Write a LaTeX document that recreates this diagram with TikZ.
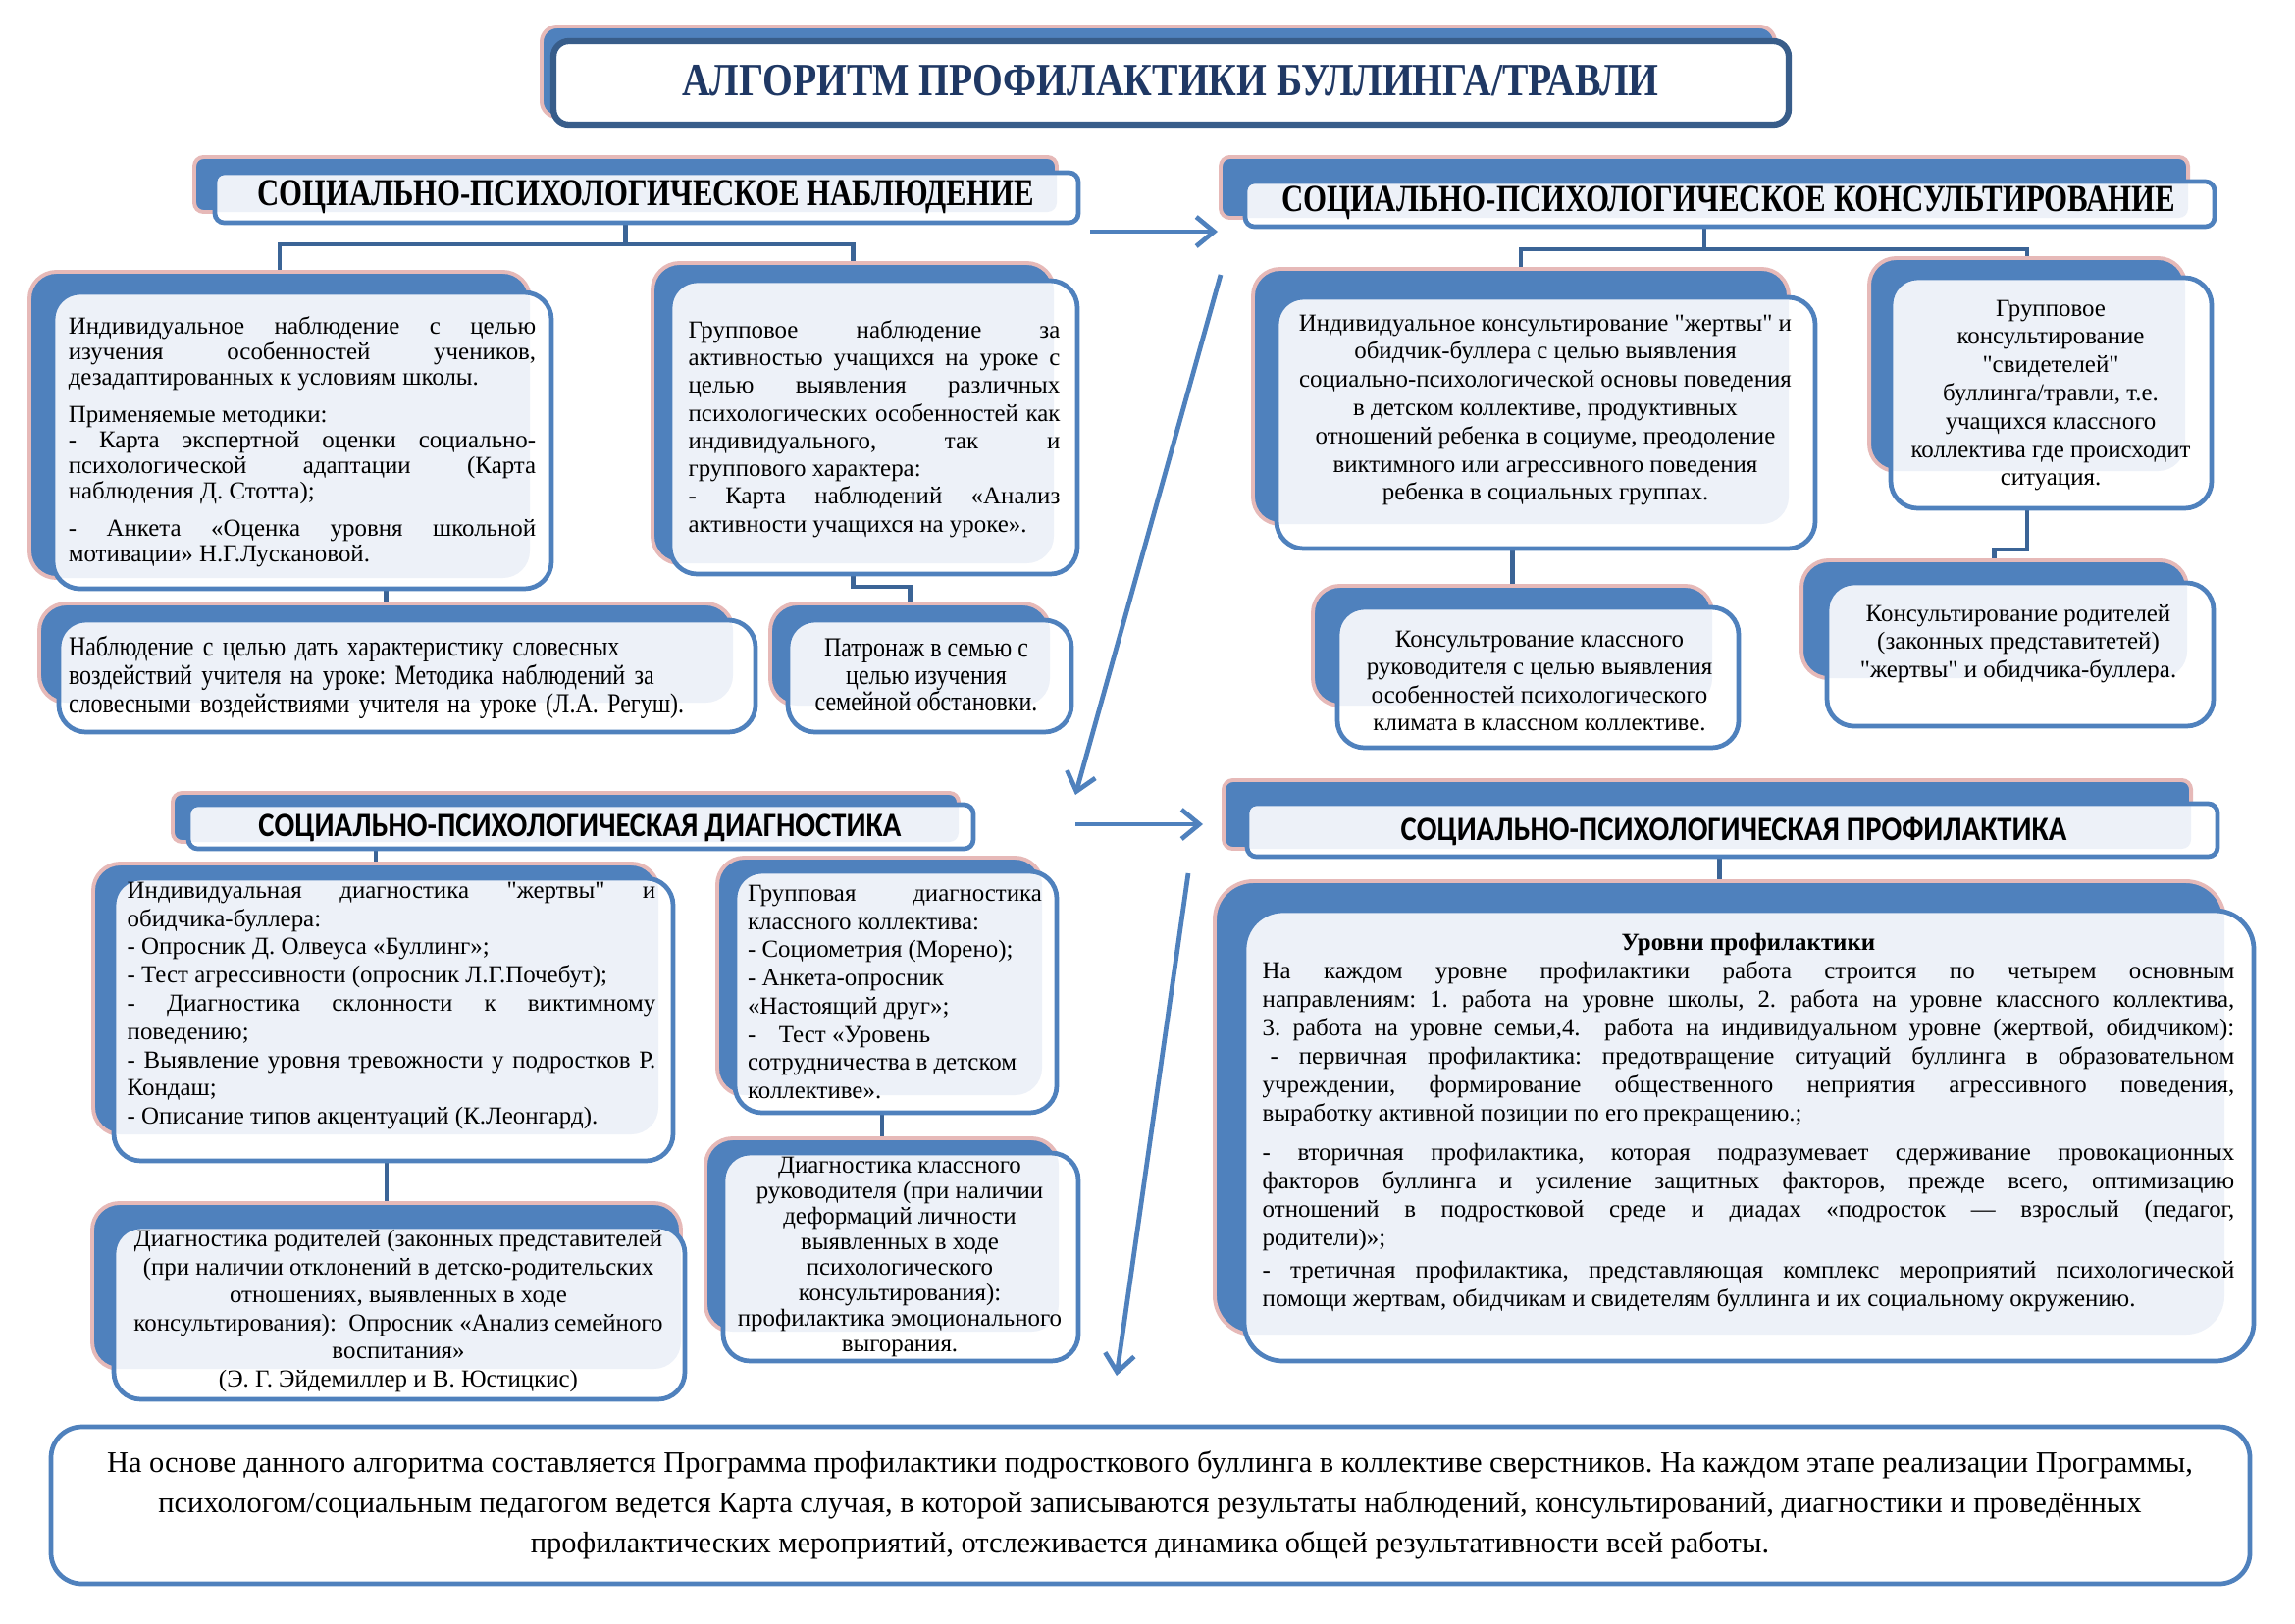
\documentclass[tikz,border=0pt]{standalone}
\usepackage{graphicx}
\usepackage{fontspec}
\setmainfont{Liberation Serif}[Ligatures=TeXOff]
\newfontfamily\condserif[FakeStretch=0.85]{Liberation Serif}
\newfontfamily\hsans{Carlito}
\usetikzlibrary{fit,arrows.meta,calc}
\pgfdeclarelayer{bgzero}\pgfdeclarelayer{bgconn}
\pgfsetlayers{bgzero,bgconn,main}
\definecolor{bluem}{HTML}{4F81BD}
\definecolor{pinkb}{HTML}{E6B9B8}
\definecolor{lightc}{HTML}{EDF1F8}
\definecolor{navyc}{HTML}{3B6496}
\definecolor{titleb}{HTML}{385D8A}
\definecolor{titlet}{HTML}{1F3864}
\hyphenpenalty=10000 \exhyphenpenalty=10000
\frenchspacing
\newcommand\myfs[2]{\fontsize{#1}{#2}\selectfont\parindent=0pt\tolerance=9999\frenchspacing\relax}
\begin{document}
\begin{tikzpicture}[x=0.127mm,y=-0.127mm,
  bk/.style={draw=pinkb, line width=0.5mm, fill=bluem, rounded corners=3.5mm, inner sep=0pt, outer sep=0pt},
  fr/.style 2 args={draw=bluem, line width=0.6mm, fill=white, rounded corners=#2, inner sep=0pt, outer sep=0pt,
     path picture={\fill[lightc, rounded corners=#2] (#1.north west) rectangle (#1.south east);}},
  txt/.style={inner sep=0pt, outer sep=0pt},
  conn/.style={draw=navyc, line width=0.55mm},
  arr/.style={draw=bluem, line width=0.6mm, -{Straight Barb[length=2.3mm,width=3.8mm]}}]

\begin{pgfonlayer}{bgzero}
\fill[white] (0,0) rectangle (2339,1654);
\end{pgfonlayer}
\useasboundingbox (0,0) rectangle (2339,1654);

% ---------- title
\node[bk, rounded corners=2mm, fit={(552,27)(1809,119)}] (Tb) {};
\node[draw=titleb, line width=0.8mm, fill=white, rounded corners=2mm, inner sep=0pt, fit={(564,42)(1823,127)}] (T) {};
\node[txt, text=titlet] (Tt) at (1193,82) {\resizebox{126.4mm}{\height}{\fontsize{17}{19}\selectfont\bfseries АЛГОРИТМ ПРОФИЛАКТИКИ БУЛЛИНГА/ТРАВЛИ}};

% ---------- header 1
\node[bk, rounded corners=1.2mm, fit={(198,160)(1077,216)}] (h1b) {};
\node[fr={h1b}{1.2mm}, fit={(219,176)(1099,227)}] (h1) {};
\node[txt] (h1t) at (658,201) {\resizebox{100.5mm}{\height}{\fontsize{14}{16}\selectfont\bfseries СОЦИАЛЬНО-ПСИХОЛОГИЧЕСКОЕ НАБЛЮДЕНИЕ}};

% ---------- header 2
\node[bk, rounded corners=1.2mm, fit={(1244,160)(2230,222)}] (h2b) {};
\node[fr={h2b}{1.2mm}, fit={(1269,185)(2257,231)}] (h2) {};
\node[txt] (h2t) at (1762,207) {\resizebox{115.7mm}{\height}{\fontsize{14}{16}\selectfont\bfseries СОЦИАЛЬНО-ПСИХОЛОГИЧЕСКОЕ КОНСУЛЬТИРОВАНИЕ}};

% ---------- header 3
\node[bk, rounded corners=1.2mm, fit={(176,808)(977,858)}] (h3b) {};
\node[fr={h3b}{1.2mm}, fit={(192,820)(992,865)}] (h3) {};
\node[txt] (h3t) at (591,844) {\resizebox{83.2mm}{\height}{\hsans\fontsize{12.5}{14}\selectfont\bfseries СОЦИАЛЬНО-ПСИХОЛОГИЧЕСКАЯ ДИАГНОСТИКА}};

% ---------- header 4
\node[bk, rounded corners=1.2mm, fit={(1247,795)(2233,865)}] (h4b) {};
\node[fr={h4b}{1.2mm}, fit={(1271,819)(2260,873)}] (h4) {};
\node[txt] (h4t) at (1767,847) {\resizebox{86.2mm}{\height}{\hsans\fontsize{12.5}{14}\selectfont\bfseries СОЦИАЛЬНО-ПСИХОЛОГИЧЕСКАЯ ПРОФИЛАКТИКА}};

% ---------- box A
\node[bk, fit={(30,277)(540,589)}] (Ab) {};
\node[fr={Ab}{3.5mm}, fit={(54,298)(562,600)}] (A) {};
\node[txt, text width=60.5mm, align=justify, font=\myfs{9}{9.4}] (tA) at (308,450) {Индивидуальное наблюдение с целью\linebreak изучения особенностей учеников,\linebreak дезадаптированных к условиям школы.\par\vspace{4.3pt}Применяемые методики:\\- Карта экспертной оценки социально-\linebreak психологической адаптации (Карта\linebreak наблюдения Д. Стотта);\par\vspace{4.3pt}- Анкета «Оценка уровня школьной\linebreak мотивации» Н.Г.Лускановой.};

% ---------- box B
\node[bk, fit={(665,268)(1074,574)}] (Bb) {};
\node[fr={Bb}{3.5mm}, fit={(683,286)(1098,585)}] (B) {};
\node[txt, text width=48.1mm, align=justify, font=\myfs{9}{10.2}] (tB) at (891,437) {Групповое наблюдение за\linebreak активностью учащихся на уроке с\linebreak целью выявления различных\linebreak психологических особенностей как\linebreak индивидуального, так и\linebreak группового характера:\\- Карта наблюдений «Анализ\linebreak активности учащихся на уроке».};

% ---------- box C
\node[bk, fit={(40,615)(747,716)}] (Cb) {};
\node[fr={Cb}{3.5mm}, fit={(60,632)(770,746)}] (C) {};
\node[txt, text width=85mm, align=left, anchor=west, font={\condserif\myfs{10.2}{10.5}}] (tC) at (70,690) {Наблюдение с целью дать характеристику словесных\\воздействий учителя на уроке: Методика наблюдений за\\словесными воздействиями учителя на уроке (Л.А. Регуш).};

% ---------- box D
\node[bk, fit={(785,615)(1070,719)}] (Db) {};
\node[fr={Db}{3.5mm}, fit={(803,632)(1092,746)}] (D) {};
\node[txt, align=center, font={\condserif\myfs{10.2}{9.8}}] (tD) at (944,688) {Патронаж в семью с\\целью изучения\\семейной обстановки.};

% ---------- box E
\node[bk, fit={(1277,274)(1823,534)}] (Eb) {};
\node[fr={Eb}{3.5mm}, fit={(1301,303)(1850,559)}] (E) {};
\node[txt, align=center, font=\myfs{9}{10.4}] (tE) at (1575,418) {Индивидуальное консультирование "жертвы" и\\обидчик-буллера с целью выявления\\социально-психологической основы поведения\\в детском коллективе, продуктивных\\отношений ребенка в социуме, преодоление\\виктимного или агрессивного поведения\\ребенка в социальных группах.};

% ---------- box F
\node[bk, fit={(1905,263)(2227,480)}] (Fb) {};
\node[fr={Fb}{3.5mm}, fit={(1927,283)(2254,518)}] (F) {};
\node[txt, align=center, font=\myfs{9}{10.4}] (tF) at (2090,403) {Групповое\\консультирование\\"свидетелей"\\буллинга/травли, т.е.\\учащихся классного\\коллектива где происходит\\ситуация.};

% ---------- box H
\node[bk, fit={(1338,597)(1745,719)}] (Hb) {};
\node[fr={Hb}{3.5mm}, fit={(1363,619)(1772,762)}] (H) {};
\node[txt, align=center, font=\myfs{9}{10.2}] (tH) at (1569,694) {Консультрование классного\\руководителя с целью выявления\\особенностей психологического\\климата в классном коллективе.};

% ---------- box G
\node[bk, fit={(1836,571)(2229,691)}] (Gb) {};
\node[fr={Gb}{3.5mm}, fit={(1862,594)(2256,740)}] (G) {};
\node[txt, align=center, font=\myfs{9}{10.2}] (tG) at (2057,656) {Консультирование родителей\\(законных представитетей)\\"жертвы" и обидчика-буллера.};

% ---------- box I
\node[bk, fit={(95,880)(671,1156)}] (Ib) {};
\node[fr={Ib}{3.5mm}, fit={(116,895)(686,1183)}] (I) {};
\node[txt, text width=68.4mm, align=justify, font=\myfs{9}{10.4}] (tI) at (399,1025) {Индивидуальная диагностика "жертвы" и\linebreak обидчика-буллера:\\- Опросник Д. Олвеуса «Буллинг»;\\- Тест агрессивности (опросник Л.Г.Почебут);\\- Диагностика склонности к виктимному\linebreak поведению;\\- Выявление уровня тревожности у подростков Р.\linebreak Кондаш;\\- Описание типов акцентуаций (К.Леонгард).};

% ---------- box J
\node[bk, fit={(731,874)(1062,1116)}] (Jb) {};
\node[fr={Jb}{3.5mm}, fit={(749,888)(1077,1134)}] (J) {};
\node[txt, text width=38.1mm, align=justify, font=\myfs{9}{10.4}] (tJ) at (912,1011) {Групповая диагностика\linebreak классного коллектива:\\- Социометрия (Морено);\\- Анкета-опросник\\«Настоящий друг»;\\-\hspace{3mm}Тест «Уровень\\сотрудничества в детском\\коллективе».};

% ---------- box K
\node[bk, fit={(94,1226)(694,1395)}] (Kb) {};
\node[fr={Kb}{3.5mm}, fit={(116,1250)(698,1426)}] (K) {};
\node[txt, align=center, font=\myfs{9}{10.3}] (tK) at (406,1336) {Диагностика родителей (законных представителей\\(при наличии отклонений в детско-родительских\\отношениях, выявленных в ходе\\консультирования):\ \ Опросник «Анализ семейного\\воспитания»\\(Э. Г. Эйдемиллер и В. Юстицкис)};

% ---------- box L
\node[bk, fit={(719,1160)(1079,1357)}] (Lb) {};
\node[fr={Lb}{3.5mm}, fit={(737,1175)(1099,1387)}] (L) {};
\node[txt, align=center, font=\myfs{9}{9.4}] (tL) at (917,1281) {Диагностика классного\\руководителя (при наличии\\деформаций личности\\выявленных в ходе\\психологического\\консультирования):\\профилактика эмоционального\\выгорания.};

% ---------- box M
\node[bk, rounded corners=5mm, fit={(1238,898)(2267,1360)}] (Mb) {};
\node[fr={Mb}{5mm}, fit={(1268,928)(2297,1387)}] (M) {};
\node[txt, text width=125.8mm, align=justify, font=\myfs{9}{10.5}] (tM) at (1782,1144) {{\centering\bfseries Уровни профилактики\par}На каждом уровне профилактики работа строится по четырем основным\linebreak направлениям: 1. работа на уровне школы, 2. работа на уровне классного коллектива,\linebreak 3. работа на уровне семьи,4.\ \ работа на индивидуальном уровне (жертвой, обидчиком):\linebreak\hspace*{1mm}- первичная профилактика: предотвращение ситуаций буллинга в образовательном\linebreak учреждении, формирование общественного неприятия агрессивного поведения,\linebreak выработку активной позиции по его прекращению.;\par\vspace{4pt}- вторичная профилактика, которая подразумевает сдерживание провокационных\linebreak факторов буллинга и усиление защитных факторов, прежде всего, оптимизацию\linebreak отношений в подростковой среде и диадах «подросток — взрослый (педагог,\linebreak родители)»;\par\vspace{1.5pt}- третичная профилактика, представляющая комплекс мероприятий психологической\linebreak помощи жертвам, обидчикам и свидетелям буллинга и их социальному окружению.};

% ---------- bottom box N
\node[draw=bluem, line width=0.6mm, fill=white, rounded corners=4mm, inner sep=0pt, fit={(52,1454)(2293,1614)}] (N) {};
\node[txt, align=center, font=\myfs{11}{14.8}] (tN) at (1172,1534) {На основе данного алгоритма составляется Программа профилактики подросткового буллинга в коллективе сверстников. На каждом этапе реализации Программы,\\психологом/социальным педагогом ведется Карта случая, в которой записываются результаты наблюдений, консультирований, диагностики и проведённых\\профилактических мероприятий, отслеживается динамика общей результативности всей работы.};

% ---------- connectors
\begin{pgfonlayer}{bgconn}
\draw[conn] (h1b.south) -- ++(0,33) coordinate (j1);
\draw[conn] (j1) -| (Ab.north);
\draw[conn] (j1) -| (Bb.north);
\draw[conn] (Ab.south) -- ++(0,6) -| (Cb.north);
\draw[conn] (Bb.south) -- ++(0,24) -| (Db.north);
\draw[conn] (h2b.south) -- ++(0,32) coordinate (j2);
\draw[conn] (j2) -| (Eb.north);
\draw[conn] (j2) -| (Fb.north);
\draw[conn] (Eb.south) -- ++(0,8) -| (Hb.north);
\draw[conn] (Fb.south) -- ++(0,80) -| (Gb.north);
\draw[conn] (Ib.north |- h3.south) -- (Ib.north);
\draw[conn] (Ib.south) -- ++(0,15) -| (Kb.north);
\draw[conn] (Jb.south) -- ++(0,10) -| (Lb.north);
\draw[conn] (Mb.north |- h4.south) -- (Mb.north);
\end{pgfonlayer}

% ---------- arrows
\coordinate (a1s) at (1111,236);
\coordinate (a1e) at (1241,236);
\coordinate (a2s) at (1244,280);
\coordinate (a2e) at (1096,810);
\coordinate (a3s) at (1096,840);
\coordinate (a3e) at (1226,840);
\coordinate (a4s) at (1211,890);
\coordinate (a4e) at (1138,1402);
\draw[arr] (a1s) -- (a1e);
\draw[arr] (a2s) -- (a2e);
\draw[arr] (a3s) -- (a3e);
\draw[arr] (a4s) -- (a4e);
\end{tikzpicture}
\end{document}
